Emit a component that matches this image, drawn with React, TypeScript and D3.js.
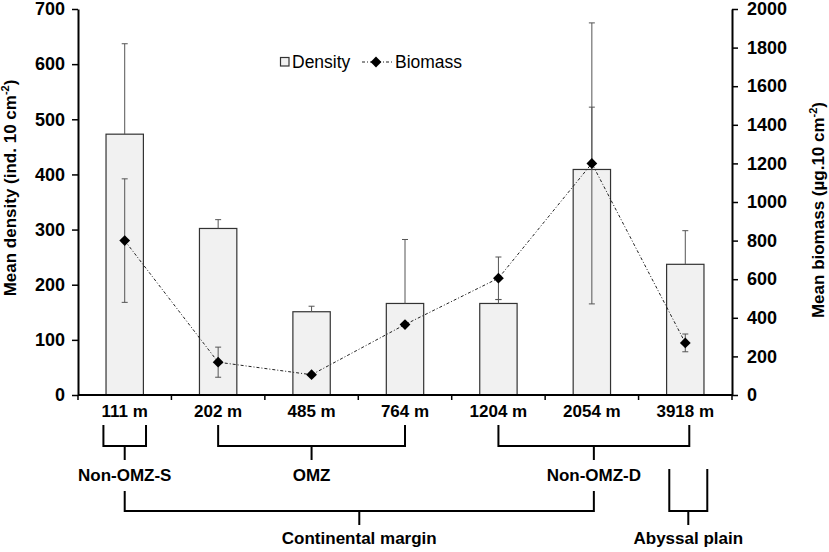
import React, { useRef, useEffect } from 'react';
import * as d3 from 'd3';

const categories = ['111 m', '202 m', '485 m', '764 m', '1204 m', '2054 m', '3918 m'];
const density = [473, 302, 151, 166, 166, 409, 237];
const densityErr = [164, 16, 10, 116, 7, 113, 61];
const biomass = [800, 170, 105, 365, 605, 1200, 270];
const biomassErr = [320, 78, 0, 0, 110, 728, 46];
const densityTicks = [0, 100, 200, 300, 400, 500, 600, 700];
const biomassTicks = [0, 200, 400, 600, 800, 1000, 1200, 1400, 1600, 1800, 2000];

// brackets under the axis: [label, first category, last category]
const zones: [string, number, number][] = [
  ['Non-OMZ-S', 0, 0],
  ['OMZ', 1, 3],
  ['Non-OMZ-D', 4, 6],
];

const W = 829;
const H = 552;
const m = { left: 78, right: 732, top: 9, bottom: 395 };
const FONT = '"Liberation Sans", Arial, sans-serif';

const App: React.FC = () => {
  const svgRef = useRef<SVGSVGElement>(null);

  useEffect(() => {
    if (!svgRef.current) return;
    const svg = d3.select(svgRef.current);
    svg.selectAll('*').remove();

    const x = d3.scaleBand<string>()
      .domain(categories)
      .range([m.left, m.right])
      .paddingInner(0.6)
      .paddingOuter(0.3);
    const step = x.step();
    const cx = (i: number) => (x(categories[i]) as number) + x.bandwidth() / 2;

    const yD = d3.scaleLinear().domain([0, 700]).range([m.bottom, m.top]);
    const yB = d3.scaleLinear().domain([0, 2000]).range([m.bottom, m.top]);

    // bars
    svg.append('g').selectAll('rect')
      .data(density)
      .join('rect')
      .attr('x', (_, i) => x(categories[i]) as number)
      .attr('y', d => yD(d))
      .attr('width', x.bandwidth())
      .attr('height', d => yD(0) - yD(d))
      .attr('fill', '#f1f1f1')
      .attr('stroke', '#333')
      .attr('stroke-width', 1.2);

    // density error bars (plus only)
    const eb = svg.append('g').attr('stroke', '#555').attr('stroke-width', 1);
    density.forEach((d, i) => {
      const top = yD(d + densityErr[i]);
      eb.append('line').attr('x1', cx(i)).attr('x2', cx(i)).attr('y1', yD(d)).attr('y2', top);
      eb.append('line').attr('x1', cx(i) - 3).attr('x2', cx(i) + 3).attr('y1', top).attr('y2', top);
    });

    // biomass error bars
    biomass.forEach((b, i) => {
      if (!biomassErr[i]) return;
      const hi = yB(b + biomassErr[i]);
      const lo = yB(b - biomassErr[i]);
      eb.append('line').attr('x1', cx(i)).attr('x2', cx(i)).attr('y1', lo).attr('y2', hi);
      [hi, lo].forEach(v => {
        eb.append('line').attr('x1', cx(i) - 3).attr('x2', cx(i) + 3).attr('y1', v).attr('y2', v);
      });
    });

    // biomass line
    const line = d3.line<number>()
      .x((_, i) => cx(i))
      .y(d => yB(d));
    svg.append('path')
      .datum(biomass)
      .attr('d', line)
      .attr('fill', 'none')
      .attr('stroke', '#222')
      .attr('stroke-width', 1)
      .attr('stroke-dasharray', '3 2 1 2');

    const diamond = d3.symbol().type(d3.symbolSquare).size(58);
    svg.append('g').selectAll('path')
      .data(biomass)
      .join('path')
      .attr('d', diamond)
      .attr('transform', (d, i) => `translate(${cx(i)},${yB(d)}) rotate(45)`)
      .attr('fill', '#000');

    // axes
    const leftAxis = d3.axisLeft(yD).tickValues(densityTicks).tickSize(6).tickSizeOuter(0).tickPadding(7);
    const gl = svg.append('g').attr('transform', `translate(${m.left},0)`).call(leftAxis);
    const rightAxis = d3.axisRight(yB).tickValues(biomassTicks).tickFormat(d3.format('d')).tickSize(6).tickSizeOuter(0).tickPadding(9);
    const gr = svg.append('g').attr('transform', `translate(${m.right},0)`).call(rightAxis);
    [gl, gr].forEach(g => {
      g.select('.domain').attr('stroke', '#000').attr('stroke-width', 2);
      g.selectAll('.tick line').attr('stroke', '#000').attr('stroke-width', 1.5);
      g.selectAll('.tick text')
        .attr('font-family', FONT)
        .attr('font-size', 18)
        .attr('font-weight', 'bold')
        .attr('fill', '#000');
    });

    // bottom axis
    svg.append('line')
      .attr('x1', m.left).attr('x2', m.right)
      .attr('y1', m.bottom).attr('y2', m.bottom)
      .attr('stroke', '#000').attr('stroke-width', 2);
    d3.range(categories.length + 1).forEach(i => {
      const tx = m.left + i * step;
      svg.append('line')
        .attr('x1', tx).attr('x2', tx)
        .attr('y1', m.bottom).attr('y2', m.bottom + 5)
        .attr('stroke', '#000').attr('stroke-width', 1.5);
    });
    svg.append('g').selectAll('text')
      .data(categories)
      .join('text')
      .attr('x', (_, i) => cx(i))
      .attr('y', 417)
      .attr('text-anchor', 'middle')
      .attr('font-family', FONT)
      .attr('font-size', 17)
      .attr('font-weight', 'bold')
      .text(d => d);

    // brackets
    const br = svg.append('g').attr('stroke', '#000').attr('stroke-width', 2).attr('fill', 'none');
    const label = (t: string, tx: number, ty: number) =>
      svg.append('text')
        .attr('x', tx).attr('y', ty)
        .attr('text-anchor', 'middle')
        .attr('font-family', FONT)
        .attr('font-size', 17)
        .attr('font-weight', 'bold')
        .text(t);
    const stems: number[] = [];
    zones.forEach(([name, a, b]) => {
      const half = a === b ? x.bandwidth() * 0.57 : 0;
      const x1 = cx(a) - half;
      const x2 = cx(b) + half + (b === 6 ? 4 : 0);
      const mid = (x1 + x2) / 2;
      br.append('path').attr('d', `M${x1},425V446H${x2}V425M${mid},446V460`);
      label(name, mid, 481);
      stems.push(mid);
    });
    const cmX1 = stems[0];
    const cmX2 = stems[2];
    const cmMid = (cmX1 + cmX2) / 2;
    br.append('path').attr('d', `M${cmX1},491V511H${cmX2}V491M${cmMid},511V525`);
    label('Continental margin', cmMid, 544);
    const ab = cx(6) + 3;
    br.append('path').attr('d', `M${ab - 19},469V511H${ab + 19}V469M${ab},511V525`);
    label('Abyssal plain', ab, 544);

    // axis titles
    const title = (tx: number, ty: number, main: string) => {
      const t = svg.append('text')
        .attr('transform', `translate(${tx},${ty}) rotate(-90)`)
        .attr('text-anchor', 'middle')
        .attr('font-family', FONT)
        .attr('font-size', 17)
        .attr('font-weight', 'bold');
      t.append('tspan').text(main);
      t.append('tspan').attr('dy', -7).attr('font-size', 11).text('-2');
      t.append('tspan').attr('dy', 7).text(')');
    };
    title(16, 188, 'Mean density (ind. 10 cm');
    title(824, 210, 'Mean biomass (µg.10 cm');

    // legend
    const lg = svg.append('g').attr('font-family', FONT).attr('font-size', 17.5);
    lg.append('rect').attr('x', 280.5).attr('y', 57.5).attr('width', 8.5).attr('height', 8.5)
      .attr('fill', '#f1f1f1').attr('stroke', '#333').attr('stroke-width', 1.2);
    lg.append('text').attr('x', 292).attr('y', 68).text('Density');
    lg.append('line').attr('x1', 362).attr('x2', 393).attr('y1', 62).attr('y2', 62)
      .attr('stroke', '#222').attr('stroke-width', 1).attr('stroke-dasharray', '3 2 1 2');
    lg.append('path').attr('d', diamond).attr('transform', 'translate(376,62) rotate(45)').attr('fill', '#000');
    lg.append('text').attr('x', 395).attr('y', 68).text('Biomass');
  }, []);

  return (
    <svg
      ref={svgRef}
      width={W}
      height={H}
      style={{ position: 'absolute', left: 0, top: 0, background: '#fff' }}
    />
  );
};

export default App;
